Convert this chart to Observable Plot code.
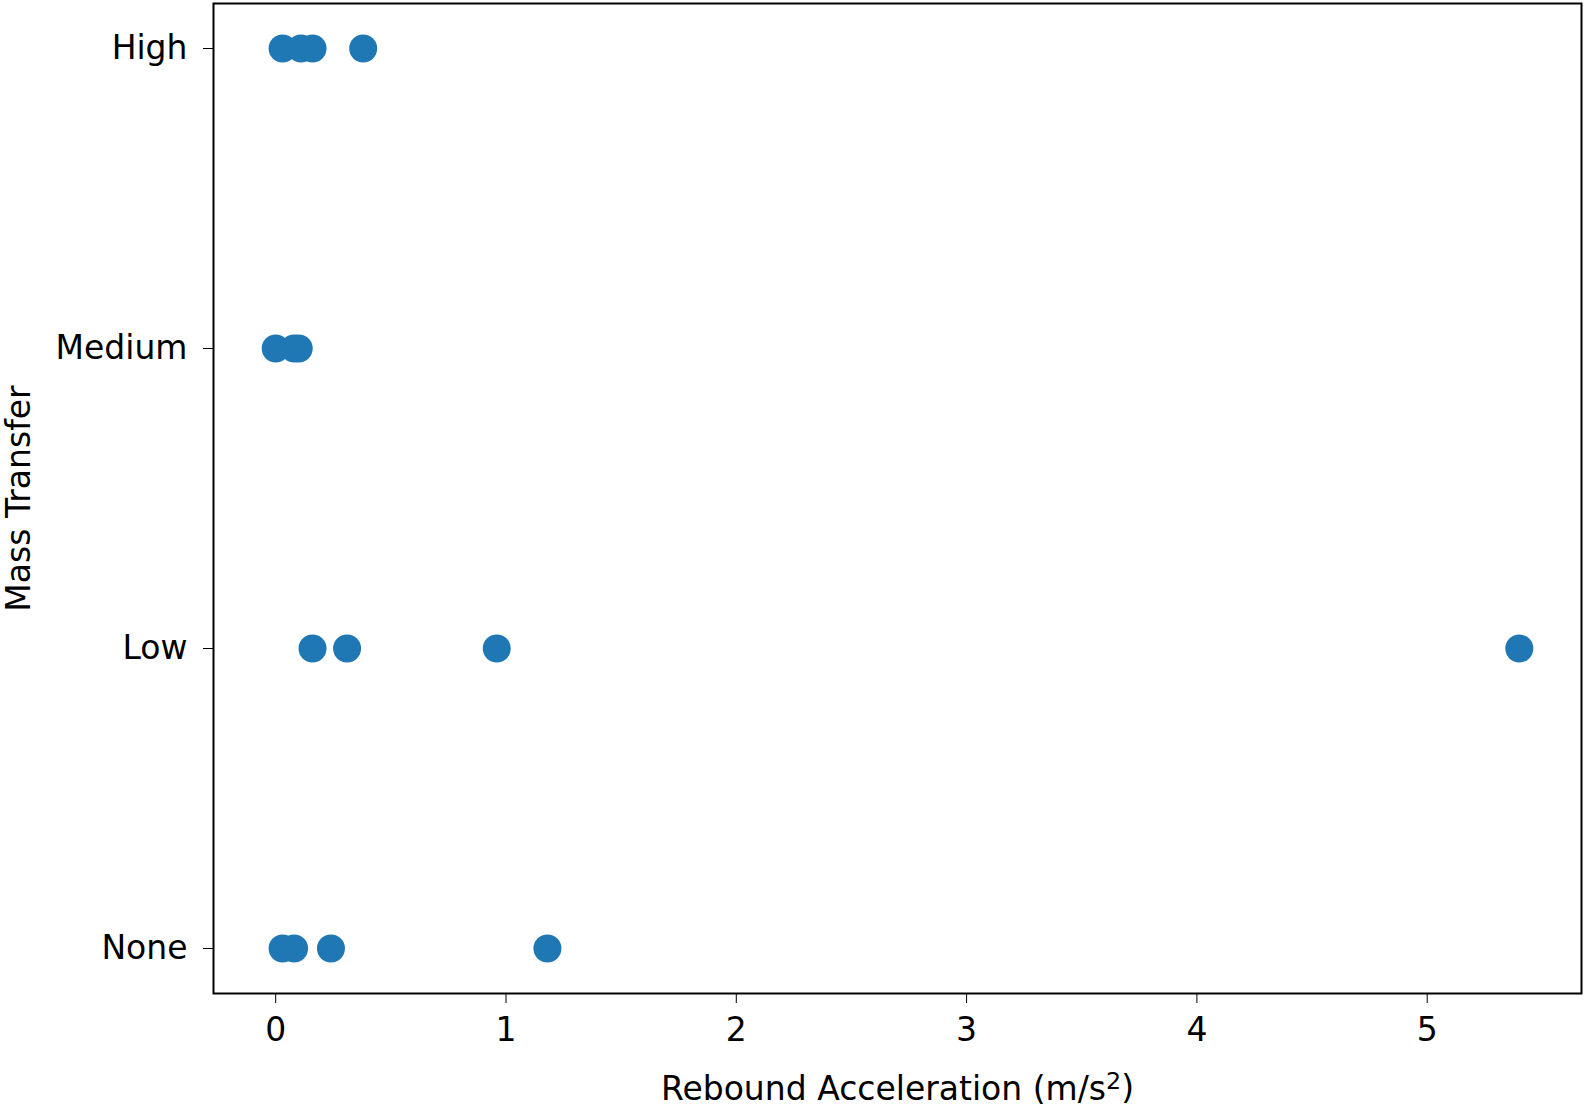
<!DOCTYPE html>
<html>
<head>
<meta charset="utf-8">
<script src="https://cdn.jsdelivr.net/npm/d3@7"></script>
<script src="https://cdn.jsdelivr.net/npm/@observablehq/plot@0.6"></script>
<style>
  html, body { margin: 0; padding: 0; background: #fff; }
  #chart svg { display: block; }
</style>
</head>
<body>
<div id="chart"></div>
<script>
// Categories (top to bottom)
const categories = ["High", "Medium", "Low", "None"];
// Rebound acceleration values (m/s^2) per category
const highValues = [0.03, 0.11, 0.16, 0.38];
const mediumValues = [0.0, 0.08, 0.10];
const lowValues = [0.16, 0.31, 0.96, 5.40];
const noneValues = [0.03, 0.08, 0.24, 1.18];
const xTicks = [0, 1, 2, 3, 4, 5];

const seriesByCategory = {High: highValues, Medium: mediumValues, Low: lowValues, None: noneValues};
const data = categories.flatMap(c => seriesByCategory[c].map(v => ({category: c, value: v})));

const xLabel = "Rebound Acceleration (m/s2)";

const chart = Plot.plot({
  width: 1585,
  height: 1106,
  marginLeft: 213,
  marginRight: 4,
  marginTop: 3,
  marginBottom: 113,
  style: {fontFamily: "DejaVu Sans", fontSize: "33px", color: "#000", background: "#fff"},
  x: {domain: [-0.27, 5.67], ticks: xTicks, tickFormat: d => String(d)},
  y: {type: "point", domain: categories, padding: 0.15},
  marks: [
    Plot.frame({stroke: "#000", strokeWidth: 2}),
    Plot.axisX({ticks: xTicks, tickSize: 10, tickPadding: 14, tickFormat: d => String(d),
      label: xLabel, labelAnchor: "center", labelArrow: "none", labelOffset: 106, fontSize: 33}),
    Plot.axisY({tickSize: 10, tickPadding: 16, label: "Mass Transfer", labelAnchor: "center",
      labelArrow: "none", labelOffset: 207, fontSize: 33}),
    Plot.dot(data, {x: "value", y: "category", r: 14, fill: "#1f77b4", stroke: "none"})
  ]
});

// Render the exponent in the x label as a superscript
d3.select(chart).selectAll("text").filter(function() { return this.textContent === xLabel; })
  .each(function() {
    const t = d3.select(this);
    t.text(null);
    t.append("tspan").text("Rebound Acceleration (m/s");
    t.append("tspan").attr("dy", "-0.45em").attr("font-size", "0.72em").text("2");
    t.append("tspan").attr("dy", "0.32em").text(")");
  });

document.getElementById("chart").appendChild(chart);
</script>
</body>
</html>
